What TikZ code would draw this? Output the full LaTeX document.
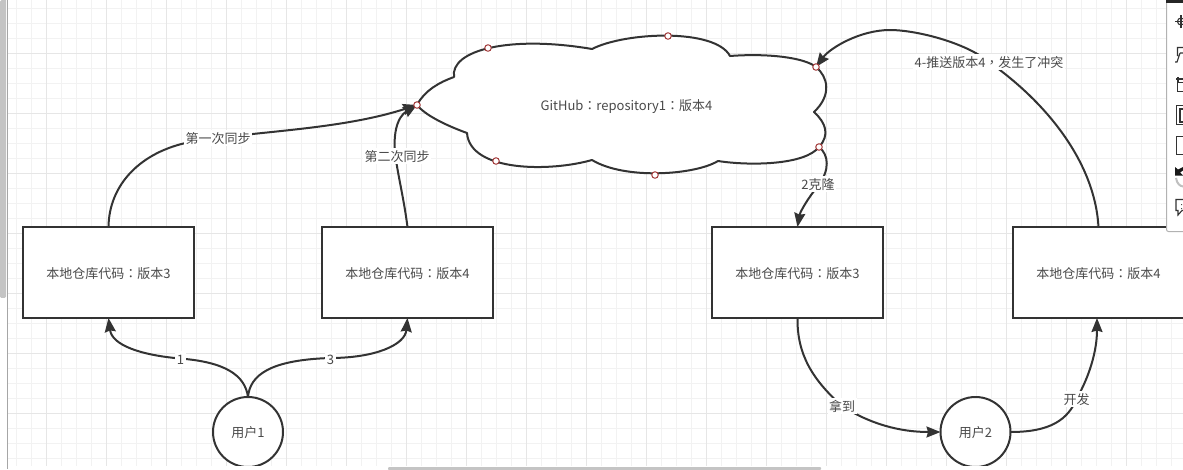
\documentclass[tikz,border=0pt]{standalone}
\usepackage{fontspec}
\setmainfont{Noto Sans CJK SC}
\newfontfamily\pnfont{Noto Sans CJK TC}
\newcommand{\pn}[1]{{\pnfont #1}}
\usetikzlibrary{arrows.meta}
\definecolor{ink}{HTML}{333333}
\definecolor{txt}{HTML}{4A4A4A}
\definecolor{gridminor}{HTML}{F2F2F2}
\definecolor{gridmajor}{HTML}{E6E6E6}
\definecolor{handle}{HTML}{A33A3A}
\definecolor{barfill}{HTML}{C4C4C4}
\tikzset{
  x=1pt,y=-1pt,
  lbl/.style={font=\fontsize{13}{15}\selectfont,text=txt,inner sep=0pt,text height=13pt,text depth=1.5pt},
  edgelbl/.style={lbl,fill=white,inner xsep=1.5pt,inner ysep=0.5pt},
  repo/.style={draw=ink,line width=2pt,fill=white,minimum width=171pt,minimum height=91pt,outer sep=0pt,lbl},
  usr/.style={draw=ink,line width=2pt,fill=white,circle,minimum size=70pt,outer sep=0pt,lbl},
  conn/.style={draw=ink,line width=2pt,-{Stealth[length=14pt,width=11pt,inset=1.5pt]}},
  hnd/.style={circle,draw=handle,fill=white,line width=1pt,minimum size=6.5pt,inner sep=0pt,outer sep=0pt},
  icon/.style={draw=black!80,line width=1.1pt}
}
\begin{document}
\begin{tikzpicture}
\useasboundingbox (0,0) rectangle (1183,469);
\fill[white] (0,0) rectangle (1183,469);
% grid
\foreach \g in {16.5,31.5,...,1183}{\draw[gridminor,line width=1pt] (\g,0) -- (\g,466);}
\foreach \g in {8.5,23.5,...,466}{\draw[gridminor,line width=1pt] (8,\g) -- (1183,\g);}
\foreach \g in {46.5,106.5,...,1183}{\draw[gridmajor,line width=1pt] (\g,0) -- (\g,466);}
\foreach \g in {53.5,113.5,...,466}{\draw[gridmajor,line width=1pt] (8,\g) -- (1183,\g);}
% cloud
\draw[ink,line width=2pt,fill=white,line join=round]
  (417,105) .. controls (425,90) and (440,82) .. (454,77)
  .. controls (450,50) and (510,35) .. (592,49)
  .. controls (625,32) and (715,28) .. (730,56)
  .. controls (770,53) and (805,58) .. (816,67)
  .. controls (828,77) and (832,95) .. (814,112)
  .. controls (826,123) and (830,135) .. (819,147)
  .. controls (805,165) and (750,166) .. (718,161)
  .. controls (695,175) and (625,180) .. (592,160)
  .. controls (550,172) and (470,172) .. (467,133)
  .. controls (445,125) and (425,115) .. (417,105) -- cycle;
\node[lbl] (cloudtext) at (626.5,105) {GitHub\pn{：}repository1\pn{：}版本4};
% boxes and users
\node[repo] (boxa) at (108.5,272.5) {本地仓库代码\pn{：}版本3};
\node[repo] (boxb) at (407.5,272.5) {本地仓库代码\pn{：}版本4};
\node[repo] (boxc) at (797.5,272.5) {本地仓库代码\pn{：}版本3};
\node[repo] (boxd) at (1098.5,272.5) {本地仓库代码\pn{：}版本4};
\node[usr] (user1) at (248,432) {用户1};
\node[usr] (user2) at (975.5,432) {用户2};
% handle anchors
\coordinate (hleft) at (417,105);
\coordinate (hright) at (816,67);
\coordinate (hclone) at (819,147);
% connectors
\draw[conn] (boxa.north) .. controls (109,185) and (140,152) .. (190,142)
  .. controls (255,131) and (340,130) .. (hleft);
\draw[conn] (boxb.north) .. controls (404,200) and (399,180) .. (396,160)
  .. controls (392,135) and (397,117) .. (hleft);
\draw[conn] (user1.north) .. controls (245,375) and (225,362) .. (180,358.5)
  .. controls (140,355) and (112,345) .. (boxa.south);
\draw[conn] (user1.north) .. controls (250,375) and (270,360) .. (330,358)
  .. controls (375,358) and (405,345) .. (boxb.south);
\draw[conn] (hclone) .. controls (829,155) and (830,170) .. (818,186)
  .. controls (808,198) and (800,212) .. (boxc.north);
\draw[conn] (boxd.north) .. controls (1095,165) and (1050,105) .. (989,62)
  .. controls (965,42) and (915,30) .. (890,30)
  .. controls (860,30) and (830,48) .. (hright);
\draw[conn] (boxc.south) .. controls (797,355) and (813,380) .. (842,406)
  .. controls (870,424) and (900,432) .. (user2.west);
\draw[conn] (user2.east) .. controls (1050,432) and (1068,420) .. (1077,398)
  .. controls (1090,375) and (1097,350) .. ([xshift=-1.5pt]boxd.south);
% connector labels
\node[edgelbl] (l1) at (218,138) {第一次同步};
\node[edgelbl] (l2) at (397,156) {第二次同步};
\node[edgelbl] (l3) at (180.5,359) {1};
\node[edgelbl] (l4) at (330.5,359) {3};
\node[edgelbl] (l5) at (818,184) {2克隆};
\node[edgelbl] (l6) at (989,62) {4-推送版本4\pn{，}发生了冲突};
\node[edgelbl] (l7) at (842,406) {拿到};
\node[edgelbl] (l8) at (1076.5,399) {开发};
% handles
\node[hnd] (h1) at (hleft) {};
\node[hnd] (h2) at (488,48) {};
\node[hnd] (h3) at (668,36) {};
\node[hnd] (h4) at (hright) {};
\node[hnd] (h5) at (hclone) {};
\node[hnd] (h6) at (655,175) {};
\node[hnd] (h7) at (496,161) {};
% editor chrome
\fill[barfill] (0,0) -- (6,0) -- (6,296) [rounded corners=1.5pt] -- (6,298) -- (0,298) -- cycle;
\fill[white] (0,298) rectangle (6,469);
\draw[black!35,line width=1pt] (7.5,0) -- (7.5,469);
\fill[white] (8,466) rectangle (1183,469);
\fill[barfill,rounded corners=1pt] (388,467) rectangle (821,470);
% side panel
\fill[white,draw=black!30,line width=1pt,rounded corners=2pt] (1166.5,-3) -- (1166.5,231.5) -- (1190,231.5) -- (1190,-3) -- cycle;
\fill[black!85] (1166,0) rectangle (1183,2.5);
\draw[icon] (1175,21.5) -- (1183,21.5) (1181,15) -- (1181,28);
\draw[icon] (1181,21.5) circle (3.5pt);
\draw[icon] (1183,47.5) -- (1177.5,47.5) -- (1177.5,56) (1180,53) -- (1183,53) (1180,53) -- (1177,62) -- (1175,62);
\draw[icon] (1183,82.5) -- (1177.5,82.5) -- (1177.5,91.5) -- (1183,91.5) (1178,77) -- (1178,82) (1176,79) -- (1183,79);
\draw[icon] (1183,105.5) -- (1176.5,105.5) -- (1176.5,124.5) -- (1183,124.5) (1183,109) -- (1180,109) -- (1180,122) -- (1183,122);
\draw[icon] (1183,136.5) -- (1176.5,136.5) -- (1176.5,154.5) -- (1183,154.5);
\fill[black!90] (1175,167) -- (1175,175.5) -- (1183,175.5) -- (1180,172.5) -- (1183,170.5) -- (1183,167) -- (1178,169.5) -- cycle;
\draw[black!25,line width=2pt] (1176,178) .. controls (1177,184) and (1180,186) .. (1183,186.5);
\draw[icon] (1183,199.5) -- (1176,199.5) -- (1176,210.5) -- (1178,210.5) -- (1178,215) -- (1182,210.5) -- (1183,210.5);
\fill[black!70] (1181,204) rectangle (1182,205) (1181,208) rectangle (1182,209);
\end{tikzpicture}
\end{document}
